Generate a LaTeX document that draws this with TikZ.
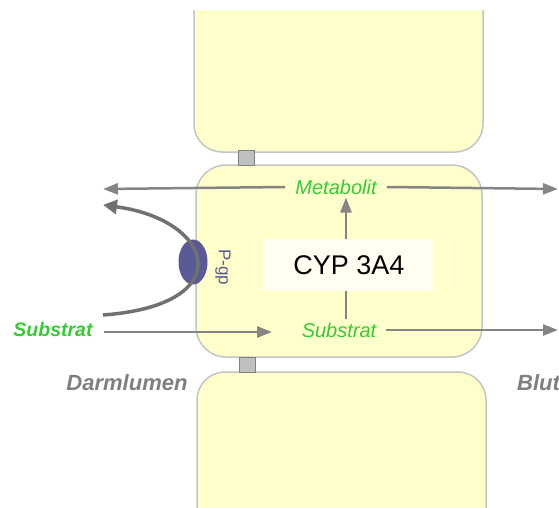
\documentclass[tikz,border=0pt]{standalone}
\usepackage{fontspec}
\setmainfont{Liberation Sans}
\usetikzlibrary{arrows.meta,calc,shapes.geometric}
\definecolor{cellfill}{HTML}{FFFFCC}
\definecolor{cellline}{HTML}{C4C4C4}
\definecolor{junction}{HTML}{C0C0C0}
\definecolor{flow}{HTML}{858585}
\definecolor{pumpblue}{HTML}{5A5A98}
\definecolor{labgreen}{HTML}{33CC33}
\definecolor{labgray}{HTML}{7F7F7F}
\begin{document}
\begin{tikzpicture}[x=1pt,y=-1pt,
  cell/.style={draw=cellline,line width=1.5pt,fill=cellfill,rounded corners=28pt,inner sep=0pt},
  tj/.style={draw=gray,fill=junction,line width=0.8pt,minimum width=16pt,minimum height=15pt,inner sep=0pt},
  flowarrow/.style={draw=flow,line width=2.5pt,-{Triangle[length=15pt,width=11pt]}},
  flowline/.style={draw=flow,line width=2.5pt},
  species/.style={text=labgreen,font=\itshape\fontsize{20}{21}\selectfont,inner xsep=10pt,inner ysep=3pt},
  side/.style={text=labgray,font=\bfseries\itshape\fontsize{22}{24}\selectfont,inner sep=0pt}]
\useasboundingbox (0,0) rectangle (559,508);

% neighbouring cells above and below, cut by the frame
\begin{scope}
  \clip (150,11) rectangle (520,200);
  \node[cell,minimum width=289pt,minimum height=181pt] (upper) at (338.5,61.5) {};
\end{scope}
\begin{scope}
  \clip (150,330) rectangle (520,508);
  \node[cell,minimum width=289pt,minimum height=180pt] (lower) at (341.5,462) {};
\end{scope}

% enterocyte
\node[cell,rounded corners=30pt,minimum width=286pt,minimum height=192pt] (ent) at (339,261) {};

% tight junctions
\node[tj] (tjtop) at (246,158) {};
\node[tj] (tjbot) at (247.5,364.5) {};

% metabolising enzyme
\node[fill=yellow!6,minimum width=170pt,minimum height=52pt,inner sep=0pt,
      font=\fontsize{27}{28}\selectfont] (cyp) at (349,265) {CYP 3A4};

% labels
\node[species] (met) at (336,187) {Metabolit};
\node[species] (sub) at (339,330) {Substrat};
\node[species,font=\bfseries\itshape\fontsize{19.5}{20}\selectfont,inner sep=1pt] (subin) at (53,330) {Substrat};
\node[side] (lumen) at (127,383) {Darmlumen};
\node[side,anchor=west] (blood) at (517,383) {Blut};

% P-glycoprotein
\node[draw=none,fill=pumpblue,ellipse,minimum width=29pt,minimum height=45pt,inner sep=0pt] (pgp) at (193,262) {};
\node[text=pumpblue,rotate=-90,font=\fontsize{17}{18}\selectfont,inner sep=0pt] (pgplab) at (223,267) {P-gp};

% free ends of the flows
\coordinate (metL) at (103,189);
\coordinate (metR) at (558,189);
\coordinate (subR) at (558,330);
\coordinate (subT) at (272,332);
\coordinate (effS) at (103,315);
\coordinate (effE) at (103,205);
\coordinate (vx) at (346,0);

% flows
\draw[flowarrow] (met.west) -- (metL);
\draw[flowarrow] (met.east) -- (metR);
\draw[flowarrow] (sub.east) -- (subR);
\draw[flowarrow] (subin.east |- subT) ++(10,0) -- (subT);
\draw[flowarrow] (cyp.north -| vx) -- (met.south -| vx);
\draw[flowline] (sub.north -| vx) -- (cyp.south -| vx);

% efflux through P-gp back into the lumen
\draw[draw=flow!85!black,line width=3.5pt,-{Triangle[length=14pt,width=14pt]}]
  (effS) .. controls (240,305) and (215,220) .. (effE);
\end{tikzpicture}
\end{document}
